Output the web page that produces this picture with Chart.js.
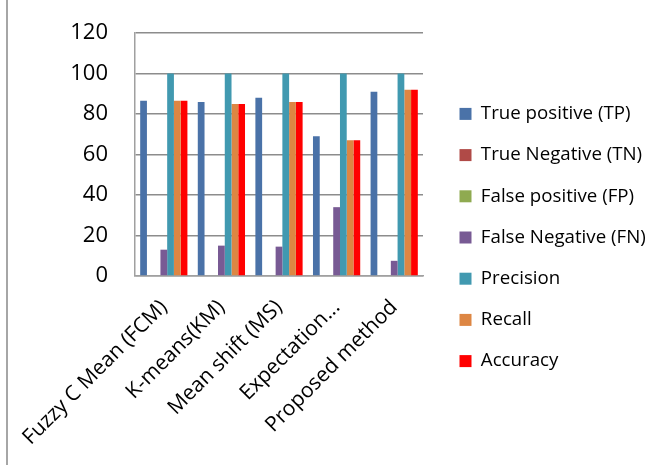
<!DOCTYPE html>
<html lang="en">
<head>
  <meta charset="UTF-8">
  <title>Clustering comparison</title>
  <script src="https://cdn.jsdelivr.net/npm/chart.js"></script>
  <style>
    body { margin: 0; background: #fff; }
    #wrap { position: relative; width: 672px; height: 465px; }
    #frame { position: absolute; left: 6px; top: 0; width: 2px; height: 465px; background: #a6a6a6; }
  </style>
</head>
<body>
  <div id="wrap">
    <div id="frame"></div>
    <canvas id="chart" width="672" height="465"></canvas>
  </div>

  <script>
    const methods = ['Fuzzy C Mean (FCM)', 'K-means(KM)', 'Mean shift (MS)', 'Expectation...', 'Proposed method'];
    const truePositive = [86.5, 86, 88, 69, 91];
    const trueNegative = [0, 0, 0, 0, 0];
    const falsePositive = [0, 0, 0, 0, 0];
    const falseNegative = [13, 15, 14.5, 34, 7.5];
    const precision = [100, 100, 100, 100, 100];
    const recall = [86.5, 85, 86, 67, 92];
    const accuracy = [86.5, 85, 86, 67, 92];
    const yTicks = [0, 20, 40, 60, 80, 100, 120];

    const FONT = '"Open Sans", Lato, sans-serif';

    // nudge legend so its items sit where the original has them
    const legendNudge = {
      id: 'legendNudge',
      beforeUpdate(chart) {
        const lg = chart.legend;
        if (!lg || lg._wrapped) return;
        const fit = lg.fit;
        lg.fit = function () { fit.call(this); this.width = 672 - 423; };
        lg._wrapped = true;
      },
      afterLayout(chart) {
        const lg = chart.legend;
        const dx = 14, dy = -8;
        lg.left += dx; lg.right += dx;
        lg.top += dy; lg.bottom += dy;
      }
    };

    const ctx = document.getElementById('chart').getContext('2d');
    new Chart(ctx, {
      type: 'bar',
      data: {
        labels: methods,
        datasets: [
          { label: 'True positive (TP)', data: truePositive, backgroundColor: '#4A72A8' },
          { label: 'True Negative (TN)', data: trueNegative, backgroundColor: '#B04A47' },
          { label: 'False positive (FP)', data: falsePositive, backgroundColor: '#8FAA50' },
          { label: 'False Negative (FN)', data: falseNegative, backgroundColor: '#785A94' },
          { label: 'Precision', data: precision, backgroundColor: '#4199B0' },
          { label: 'Recall', data: recall, backgroundColor: '#DD8643' },
          { label: 'Accuracy', data: accuracy, backgroundColor: '#FF0000' }
        ]
      },
      options: {
        responsive: false,
        animation: false,
        layout: { padding: { top: 26, left: 0, right: 0, bottom: 0 } },
        datasets: { bar: { barPercentage: 1, categoryPercentage: 0.82 } },
        plugins: {
          tooltip: { enabled: false },
          legend: {
            position: 'right',
            align: 'center',
            labels: {
              boxWidth: 12,
              boxHeight: 12,
              padding: 22.5,
              color: '#000',
              font: { family: FONT, size: 18.7 }
            }
          }
        },
        scales: {
          x: {
            grid: { display: false, drawTicks: false },
            border: { color: '#a0a0a0', width: 1.5 },
            ticks: {
              color: '#000',
              font: { family: FONT, size: 21 },
              minRotation: 45,
              maxRotation: 45,
              padding: 19,
              autoSkip: false
            },
            afterFit(scale) {
              scale.height = 189;
              // rotated labels may hang past the plot's left edge, like the original
              scale.paddingLeft = 0;
              scale.paddingRight = 0;
            }
          },
          y: {
            min: 0,
            max: 120,
            afterBuildTicks(scale) { scale.ticks = yTicks.map(v => ({ value: v })); },
            grid: { color: '#8c8c8c', lineWidth: 1.5, drawTicks: false },
            border: { color: '#a0a0a0', width: 1.5 },
            ticks: {
              color: '#000',
              font: { family: FONT, size: 22, lineHeight: 0.55 },
              padding: 27
            },
            afterFit(scale) { scale.width = 135; }
          }
        }
      },
      plugins: [legendNudge]
    });
  </script>
</body>
</html>
